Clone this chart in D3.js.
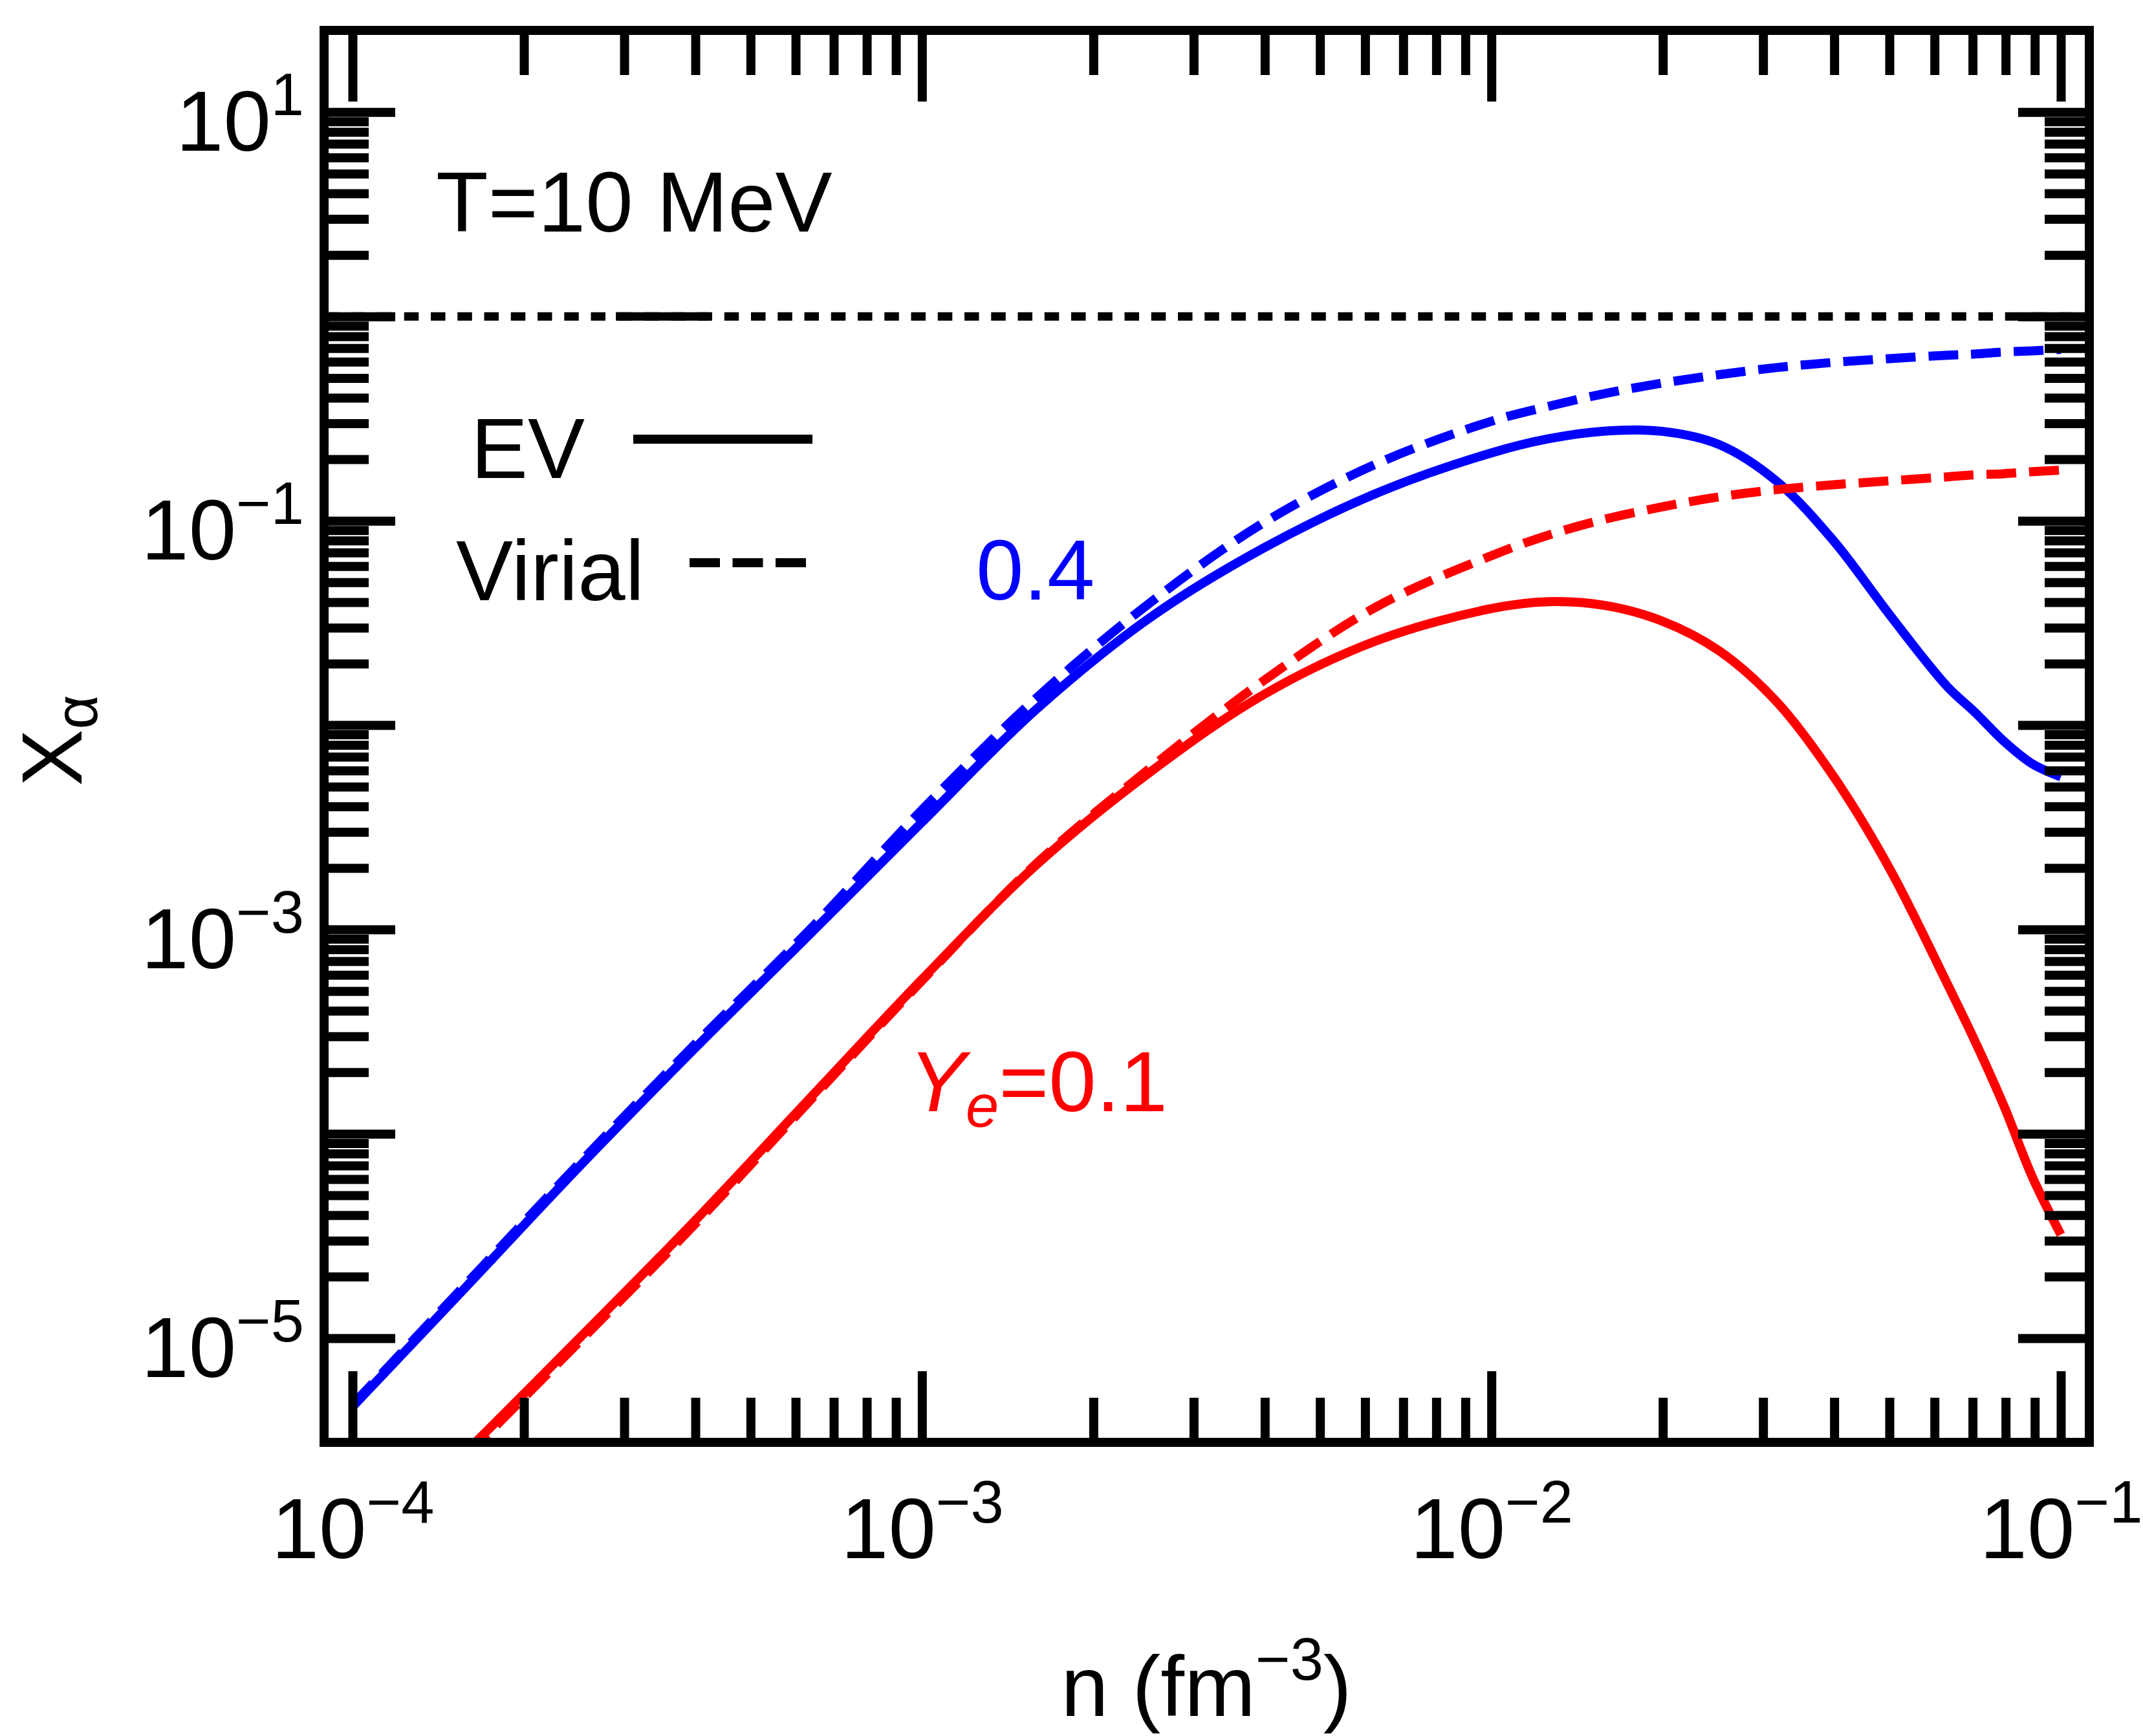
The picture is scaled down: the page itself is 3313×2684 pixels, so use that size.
<!DOCTYPE html>
<html>
<head>
<meta charset="utf-8">
<script src="https://cdn.jsdelivr.net/npm/d3@7/dist/d3.min.js"></script>
<style>
  body { margin: 0; background: #fff; }
  svg text { font-family: "Liberation Sans", Arial, Helvetica, sans-serif; }
</style>
</head>
<body>
<svg id="chart"></svg>
<script>
// baryon density n (fm^-3)
var density = [1.0e-4, 1.585e-4, 2.512e-4, 3.981e-4, 6.310e-4, 1.0e-3, 1.585e-3, 2.512e-3,
  3.981e-3, 6.310e-3, 1.0e-2, 1.259e-2, 1.585e-2, 1.995e-2, 2.512e-2, 3.162e-2, 3.981e-2,
  5.012e-2, 6.310e-2, 7.079e-2, 7.943e-2, 8.913e-2, 1.0e-1];

// alpha mass fraction, Ye = 0.4
var evYe04 = [4.62e-6, 1.79e-5, 7.0e-5, 2.60e-4, 9.29e-4, 3.35e-3, 1.19e-2, 3.35e-2,
  7.36e-2, 0.137, 0.215, 0.252, 0.275, 0.274, 0.236, 0.157, 0.0804,
  0.0345, 0.0155, 0.0115, 8.34e-3, 6.46e-3, 5.58e-3];
var virialYe04 = [4.72e-6, 1.85e-5, 7.26e-5, 2.72e-4, 9.79e-4, 3.85e-3, 1.35e-2, 3.96e-2,
  9.78e-2, 0.191, 0.307, 0.363, 0.420, 0.472, 0.519, 0.562, 0.596,
  0.622, 0.646, 0.655, 0.670, 0.679, 0.690];

// alpha mass fraction, Ye = 0.1
var evYe01 = [null, 2.79e-6, 1.01e-5, 3.72e-5, 1.46e-4, 5.70e-4, 2.06e-3, 5.87e-3,
  1.41e-2, 2.60e-2, 3.72e-2, 4.02e-2, 3.85e-2, 3.23e-2, 2.31e-2, 1.31e-2, 5.66e-3,
  1.97e-3, 5.46e-4, 2.81e-4, 1.37e-4, 6.14e-5, 3.21e-5];
var virialYe01 = [null, 2.67e-6, 9.70e-6, 3.58e-5, 1.42e-4, 5.62e-4, 2.09e-3, 6.14e-3,
  1.65e-2, 3.82e-2, 6.75e-2, 8.51e-2, 0.102, 0.117, 0.131, 0.142, 0.150,
  0.157, 0.164, 0.168, 0.170, 0.174, 0.177];

var unityLevel = 1;
var unityOverlap = [2.9e-4, 4.23e-4];

var xMajorTicks = [1e-4, 1e-3, 1e-2, 1e-1];
var xMinorDecades = [1e-4, 1e-3, 1e-2];
var yMajorTicks = [1e1, 1e0, 1e-1, 1e-2, 1e-3, 1e-4, 1e-5];
var yMinorDecades = [1e-5, 1e-4, 1e-3, 1e-2, 1e-1, 1e0];
var yLabelledExp = [1, -1, -3, -5];
var mantissas = [2, 3, 4, 5, 6, 7, 8, 9];

var margin = {top: 47, right: 83, bottom: 454, left: 501};
var fullW = 3313, fullH = 2684;
var width = fullW - margin.left - margin.right;
var height = fullH - margin.top - margin.bottom;

var svg = d3.select("#chart").attr("width", fullW).attr("height", fullH);
var chart = svg.append("g").attr("transform", "translate(" + margin.left + "," + margin.top + ")");

var x = d3.scaleLog().domain([Math.pow(10, -4.05), Math.pow(10, -0.95)]).range([0, width]);
var y = d3.scaleLog().domain([Math.pow(10, -5.51), Math.pow(10, 1.4)]).range([height, 0]);

var minor = function(decades) {
  var out = [];
  decades.forEach(function(d) { mantissas.forEach(function(m) { out.push(m * d); }); });
  return out;
};
var xMinorTicks = minor(xMinorDecades);
var yMinorTicks = minor(yMinorDecades);

chart.append("clipPath").attr("id", "plot-clip")
  .append("rect").attr("width", width).attr("height", height);

var plot = chart.append("g").attr("clip-path", "url(#plot-clip)");

// X_alpha = 1 reference line
plot.append("path")
  .datum(x.domain())
  .attr("d", d3.line().x(function(d) { return x(d); }).y(function() { return y(unityLevel); }))
  .attr("stroke", "#000").attr("stroke-width", 13).attr("fill", "none")
  .attr("stroke-dasharray", "22.5,18.75");
plot.append("path")
  .datum(unityOverlap)
  .attr("d", d3.line().x(function(d) { return x(d); }).y(function() { return y(unityLevel); }))
  .attr("stroke", "#000").attr("stroke-width", 13).attr("fill", "none");

var series = [
  {values: evYe04, color: "#0000ff", dash: null},
  {values: virialYe04, color: "#0000ff", dash: "46,20"},
  {values: evYe01, color: "#ff0000", dash: null},
  {values: virialYe01, color: "#ff0000", dash: "46,20"}
];

var line = d3.line()
  .defined(function(d) { return d.v != null; })
  .x(function(d) { return x(d.n); })
  .y(function(d) { return y(d.v); })
  .curve(d3.curveCatmullRom.alpha(0.5));

plot.selectAll(".curve")
  .data(series)
  .enter().append("path")
  .attr("class", "curve")
  .attr("d", function(s) { return line(density.map(function(n, i) { return {n: n, v: s.values[i]}; })); })
  .attr("fill", "none")
  .attr("stroke", function(s) { return s.color; })
  .attr("stroke-width", 14)
  .attr("stroke-dasharray", function(s) { return s.dash; });

function styleAxis(g) {
  g.select(".domain").remove();
  g.attr("font-size", 132).attr("font-family", null);
  g.selectAll(".tick line").attr("stroke", "#000").attr("stroke-width", 14);
}

function powerLabels(g) {
  g.selectAll(".tick text").each(function(d) {
    var t = d3.select(this);
    if (t.text() === "") return;
    var e = Math.round(Math.log10(d));
    t.text(null);
    t.append("tspan").text("10");
    t.append("tspan").attr("font-size", 92).attr("dy", -55).text(e < 0 ? "\u2212" + (-e) : String(e));
  });
}

var fmt = function(d) { return "1"; };

// bottom
chart.append("g").attr("transform", "translate(0," + height + ")")
  .call(d3.axisBottom(x).tickValues(xMajorTicks).tickSize(-110).tickSizeOuter(0).tickPadding(85).tickFormat(fmt))
  .call(styleAxis).call(powerLabels);
chart.append("g").attr("transform", "translate(0," + height + ")")
  .call(d3.axisBottom(x).tickValues(xMinorTicks).tickSize(-69).tickSizeOuter(0).tickFormat(""))
  .call(styleAxis);

// top
chart.append("g")
  .call(d3.axisTop(x).tickValues(xMajorTicks).tickSize(-110).tickSizeOuter(0).tickFormat(""))
  .call(styleAxis);
chart.append("g")
  .call(d3.axisTop(x).tickValues(xMinorTicks).tickSize(-69).tickSizeOuter(0).tickFormat(""))
  .call(styleAxis);

// left
chart.append("g")
  .call(d3.axisLeft(y).tickValues(yMajorTicks).tickSize(-110).tickSizeOuter(0).tickPadding(31)
    .tickFormat(function(d) { return yLabelledExp.indexOf(Math.round(Math.log10(d))) >= 0 ? "1" : ""; }))
  .call(styleAxis).call(powerLabels)
  .selectAll(".tick text").attr("dy", "0.45em");
chart.append("g")
  .call(d3.axisLeft(y).tickValues(yMinorTicks).tickSize(-69).tickSizeOuter(0).tickFormat(""))
  .call(styleAxis);

// right
chart.append("g").attr("transform", "translate(" + width + ",0)")
  .call(d3.axisRight(y).tickValues(yMajorTicks).tickSize(-110).tickSizeOuter(0).tickFormat(""))
  .call(styleAxis);
chart.append("g").attr("transform", "translate(" + width + ",0)")
  .call(d3.axisRight(y).tickValues(yMinorTicks).tickSize(-69).tickSizeOuter(0).tickFormat(""))
  .call(styleAxis);

chart.append("rect")
  .attr("width", width).attr("height", height)
  .attr("fill", "none").attr("stroke", "#000").attr("stroke-width", 14);

// axis titles
svg.append("text")
  .attr("x", 1865).attr("y", 2653)
  .attr("text-anchor", "middle").attr("font-size", 132)
  .call(function(t) {
    t.append("tspan").text("n (fm");
    t.append("tspan").attr("font-size", 92).attr("dy", -56).text("\u22123");
    t.append("tspan").attr("dy", 56).text(")");
  });

svg.append("text")
  .attr("transform", "translate(126,1145) rotate(-90)")
  .attr("text-anchor", "middle").attr("font-size", 132)
  .call(function(t) {
    t.append("tspan").text("X");
    t.append("tspan").attr("font-size", 92).attr("dy", 24).text("\u03b1");
  });

// annotations
svg.append("text").attr("x", 674).attr("y", 358).attr("font-size", 132).text("T=10 MeV");

svg.append("text").attr("x", 1509).attr("y", 927).attr("font-size", 132)
  .attr("fill", "#0000ff").text("0.4");

svg.append("text").attr("x", 1405).attr("y", 1718).attr("font-size", 132)
  .attr("fill", "#ff0000")
  .call(function(t) {
    t.append("tspan").attr("font-style", "italic").text("Y");
    t.append("tspan").attr("font-style", "italic").attr("font-size", 92).attr("dy", 24).text("e");
    t.append("tspan").attr("dy", -24).text("=0.1");
  });

// legend
svg.append("text").attr("x", 728).attr("y", 739).attr("font-size", 132).text("EV");
svg.append("text").attr("x", 705).attr("y", 928).attr("font-size", 132).text("Virial");
svg.append("line").attr("x1", 979).attr("x2", 1256).attr("y1", 679).attr("y2", 679)
  .attr("stroke", "#000").attr("stroke-width", 14);
svg.append("line").attr("x1", 1066).attr("x2", 1247).attr("y1", 870).attr("y2", 870)
  .attr("stroke", "#000").attr("stroke-width", 14).attr("stroke-dasharray", "47,19.5");
</script>
</body>
</html>
